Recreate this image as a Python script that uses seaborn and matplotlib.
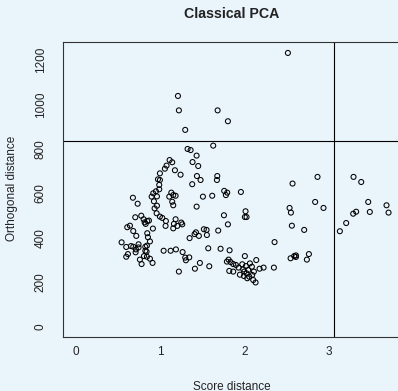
import matplotlib
matplotlib.use("Agg")
import matplotlib.pyplot as plt
import seaborn as sns
import pandas as pd

# Score distance / orthogonal distance for each observation
score_dist = [
    2.512, 1.209, 1.220, 1.679, 1.801, 1.295, 1.627,
    1.323, 1.359, 1.430, 1.382, 1.449, 1.110, 1.141, 1.074, 1.054, 1.173, 1.240,
    0.995, 0.972, 0.995, 0.987, 0.987, 1.434, 1.477, 1.378, 1.675, 1.671, 1.505,
    1.615, 1.757, 1.793, 1.777, 1.955, 1.430, 1.130, 1.153, 1.181, 1.106, 1.141,
    1.153, 0.948, 0.916, 0.897, 0.960, 0.924, 0.960, 0.932, 0.956, 0.995, 1.023,
    1.066, 1.062, 1.181, 1.161, 1.153, 1.201, 1.248, 1.260, 1.347, 1.406, 1.422,
    1.457, 1.516, 1.548, 1.552, 1.754, 1.801, 1.686, 2.010, 2.002, 2.022,
    2.567, 2.863, 2.532, 2.548, 2.835, 2.934, 2.559, 2.705, 2.354, 2.544, 2.587,
    2.607, 2.607, 2.761, 2.737, 2.346, 2.224, 2.176, 2.137, 2.129, 2.101, 2.002,
    1.821, 1.714, 1.568, 1.580, 1.469, 1.410, 1.220, 1.039, 1.122, 1.185, 1.264,
    1.295, 1.343, 1.303, 1.789, 1.809, 1.833, 1.864, 1.896, 1.817, 1.864, 1.927,
    1.971, 1.943, 1.991, 2.022, 2.042, 2.062, 2.085, 1.983, 2.014, 2.054, 2.089,
    2.109, 1.995, 2.030,
    3.128, 3.203, 3.286, 3.321, 3.290, 3.381, 3.464, 3.483, 3.681, 3.705,
    0.675, 0.731, 0.703, 0.774, 0.802, 0.814, 0.845, 0.865, 0.826, 0.608, 0.640,
    0.679, 0.715, 0.912, 0.845, 0.853, 0.877, 0.541, 0.596, 0.652, 0.679, 0.711,
    0.742, 0.742, 0.707, 0.616, 0.596, 0.758, 0.778, 0.822, 0.841, 0.822, 0.837,
    0.806, 0.841, 0.877, 0.908,
]
orth_dist = [
    1233, 1039, 974, 974, 925, 886, 815,
    800, 795, 770, 741, 723, 750, 740, 725, 711, 704, 684,
    690, 663, 660, 638, 618, 678, 660, 641, 678, 660, 585,
    589, 611, 603, 592, 606, 540, 603, 592, 589, 585, 562,
    546, 609, 600, 585, 586, 564, 544, 532, 510, 495, 489,
    475, 453, 483, 462, 442, 453, 468, 460, 398, 416, 424,
    408, 438, 435, 412, 501, 460, 432, 519, 493, 493,
    644, 674, 534, 513, 561, 534, 454, 435, 380, 307, 317,
    320, 313, 326, 301, 265, 265, 260, 299, 198, 209, 317,
    343, 350, 352, 271, 286, 260, 247, 341, 341, 347, 335,
    310, 311, 298, 292, 301, 290, 281, 277, 250, 247, 265,
    280, 233, 227, 239, 254, 284, 269, 257, 272, 224, 232,
    247, 247, 217,
    429, 466, 508, 517, 674, 651, 561, 516, 546, 513,
    580, 553, 492, 499, 483, 469, 475, 477, 462, 447, 454,
    430, 408, 441, 420, 402, 383, 379, 358, 362, 359, 347,
    356, 370, 334, 326, 314, 301, 281, 359, 364, 341, 337,
    317, 314, 305, 286,
]

# Cutoff values for score and orthogonal distance
sd_cutoff = 3.06
od_cutoff = 834.5

x_ticks = [0, 1, 2, 3]
y_ticks = [0, 200, 400, 600, 800, 1000, 1200]

df = pd.DataFrame({"Score distance": score_dist, "Orthogonal distance": orth_dist})

bg = "#eaf4fb"
sns.set_style("white")
plt.rcParams["font.family"] = ["Liberation Sans", "DejaVu Sans"]

W, H = 398, 391
fig = plt.figure(figsize=(W / 100, H / 100), dpi=100, facecolor=bg)
left, top, right, bottom = 63.3, 42.0, 405.0, 337.3
ax = fig.add_axes([left / W, 1 - bottom / H, (right - left) / W, (bottom - top) / H])
ax.set_facecolor(bg)

sns.scatterplot(data=df, x="Score distance", y="Orthogonal distance", ax=ax,
                marker="o", s=13, facecolor="none", edgecolor="black",
                linewidth=0.75, legend=False)

ax.axvline(sd_cutoff, color="black", lw=0.8)
ax.axhline(od_cutoff, color="black", lw=0.8)

xmax = 3.75
ymax = 1233
ax.set_xlim(-0.04 * xmax, 1.04 * xmax)
ax.set_ylim(-0.04 * ymax, 1.04 * ymax)

ax.set_xticks(x_ticks)
ax.set_xticklabels([str(v) for v in x_ticks])
ax.set_yticks(y_ticks)
ax.set_yticklabels([str(v) for v in y_ticks], rotation=90, va="center")
ax.tick_params(axis="both", direction="out", length=5, width=0.8, color="#333333",
               labelsize=8.5, labelcolor="#222222")
ax.tick_params(axis="x", pad=1.5)
ax.tick_params(axis="y", pad=7)

for sp in ax.spines.values():
    sp.set_color("#333333")
    sp.set_linewidth(0.8)

ax.set_xlabel("Score distance", fontsize=8.5, color="#222222")
ax.set_ylabel("Orthogonal distance", fontsize=8.5, color="#222222")
ax.xaxis.label.set_verticalalignment("baseline")
ax.xaxis.set_label_coords((232 - left) / (right - left), -(389.5 - bottom) / (bottom - top))
ax.yaxis.set_label_coords(-(63.3 - 18.5) / (right - left), 1 - (188 - top) / (bottom - top))

fig.text(232 / W, 1 - 14 / H, "Classical PCA", ha="center", va="center",
         fontsize=10.2, fontweight="bold", color="#222222")

fig.savefig("out.png", dpi=100, facecolor=bg)
